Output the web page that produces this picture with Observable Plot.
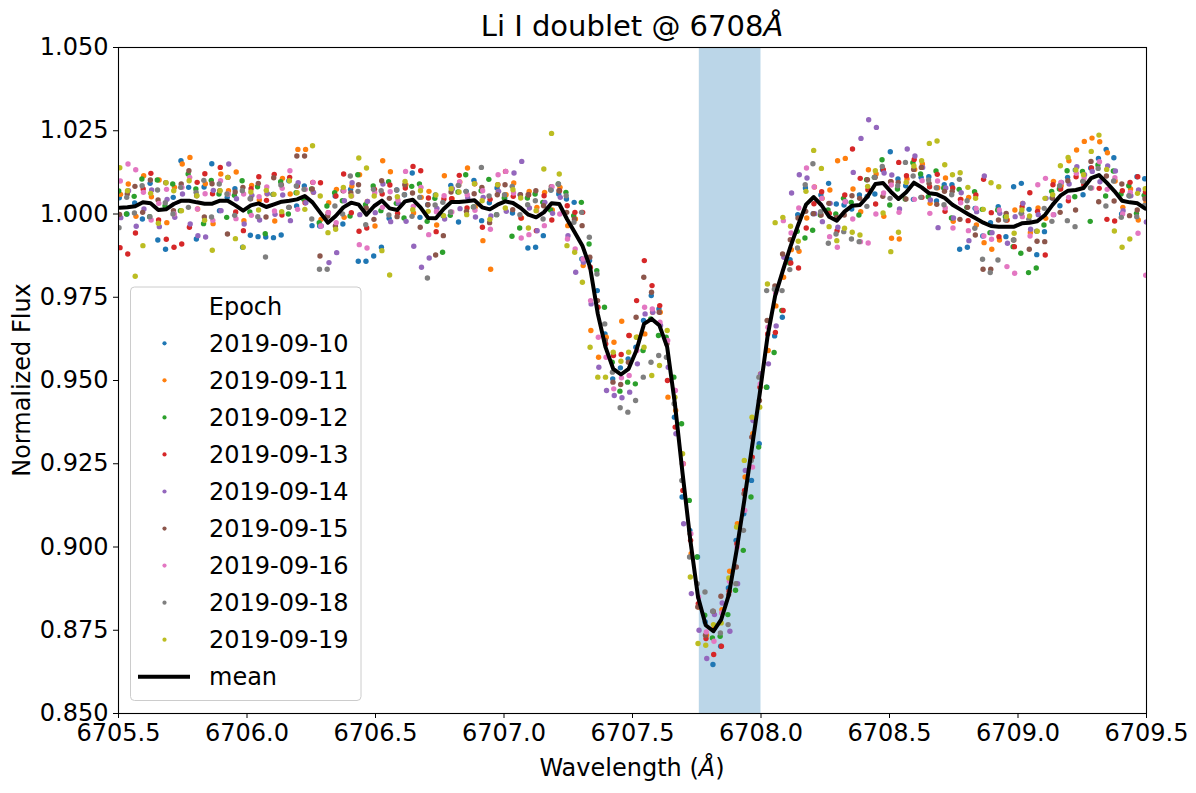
<!DOCTYPE html>
<html><head><meta charset="utf-8">
<script src="https://cdn.jsdelivr.net/npm/d3@7"></script>
<script src="https://cdn.jsdelivr.net/npm/@observablehq/plot@0.6"></script>
<style>body{margin:0;background:#fff;font-family:"DejaVu Sans",sans-serif}</style>
</head><body><div id="chart"></div>
<script>
// ---------------- data ----------------
const epochs = ["2019-09-10","2019-09-11","2019-09-12","2019-09-13","2019-09-14","2019-09-15","2019-09-16","2019-09-18","2019-09-19"];
const colors = ["#1f77b4","#ff7f0e","#2ca02c","#d62728","#9467bd","#8c564b","#e377c2","#7f7f7f","#bcbd22"];
// wavelength sampling of the spectra (Angstrom)
const waveStart = 6705.505, waveStep = 0.03;
// per-epoch wavelength offsets (Angstrom)
const epochShift = [-0.002, 0.003, -0.004, 0.001, 0.004, -0.001, 0.002, -0.003, 0.0];
// mean normalized flux, in thousandths relative to 1.000
const meanFlux = [1.9,2.0,2.3,3.5,3.2,1.2,1.4,3.0,4.0,4.0,3.5,3.1,3.1,4.0,4.0,2.6,1.0,2.6,3.2,2.1,
2.9,3.7,4.0,4.4,5.4,3.5,0.4,-2.6,-0.6,2.0,3.4,2.8,-0.2,2.4,4.0,1.7,1.2,3.8,4.3,2.0,
-1.2,-1.3,1.5,3.6,3.6,3.8,4.1,2.0,1.4,2.8,3.8,3.3,1.8,-0.2,-1.0,0.5,3.2,3.0,-1.5,-5.5,
-9.5,-16,-30,-40,-46.5,-48.2,-46.5,-41,-33,-31.5,-33.5,-40,-57,-78,-98,-115,-123.5,-125.3,-121.8,-114.3,
-101,-86,-70,-54,-37,-24.6,-17,-9.7,-3.2,2.8,5.1,2.7,-0.8,-2.0,0.7,2.5,2.7,5.3,9.0,9.3,
6.7,4.5,6.5,9.4,8.0,6.2,5.9,4.8,2.8,1.4,0.0,-1.3,-2.6,-3.6,-3.8,-3.8,-3.8,-2.8,-2.6,-2.2,
-0.3,2.8,5.5,7.0,7.2,7.8,10.8,11.7,9.4,6.9,4.0,3.5,3.2,1.6];
// per-epoch flux offsets from the mean, in thousandths
const dev_0910 = [3,-2,1,-5,6,-9,-12,2,12,4,-11,5,12,-3,1,5,-11,-9,-10,-9,-10,-10,6,-2,3,-7,-4,2,6,-5,4,-17,-14,-15,-14,-3,6,2,8,-3,4,7,-2,5,-6,3,6,-4,2,5,1,-3,4,-10,-9,-7,4,3,
6,9,-4,2,7,4,-3,2,3,1,1,7,5,2,-4,-7,3,12,1,-10,-8,2,3,-4,-10,-15,-15,-12,-14,-4,3,5,-5,
3,10,5,2,-1,3,0,-3,4,12,6,2,-5,3,5,-2,4,6,-12,-10,3,-4,1,6,-3,12,12,4,-10,-5,2,-3,4,6,-2,3,5,10,10,-4,2,8,9];
const dev_0911 = [4,7,-3,8,2,9,-4,5,11,13,-2,6,-6,8,3,10,-3,6,1,4,-5,7,2,15,14,3,-2,6,8,-3,5,9,4,-6,12,11,2,5,-4,3,8,-2,10,1,6,10,-2,-10,-18,4,2,6,-3,7,3,6,-2,5,
-2,4,-6,-19,-13,3,8,16,10,4,-3,2,4,-15,-2,3,-4,-3,-3,1,3,7,8,7,4,6,-4,-3,-2,-1,-8,-4,3,
2,8,18,16,5,-2,8,3,-10,-14,-12,4,4,7,-3,2,6,-5,3,5,-2,-6,-7,-4,2,5,6,-3,4,-1,7,3,9,12,14,12,10,9,3,-2,4,-5,2];
const dev_0912 = [5,-2,3,7,-4,9,1,6,-3,8,4,-6,7,2,-5,3,9,-2,5,-8,3,6,-4,2,-1,4,-3,5,7,2,-4,9,3,6,-3,8,2,-5,4,7,-1,6,-13,-4,3,8,-2,5,9,-3,1,-10,-6,5,7,3,-2,6,
8,5,13,7,13,12,2,-5,-4,-10,-8,0,-3,3,8,15,12,12,3,-2,-5,-6,-12,-15,-15,-16,-15,-17,-12,-5,-2,-10,-10,
-3,2,2,4,1,-3,5,2,7,-4,3,-2,6,4,-1,7,3,-4,6,2,8,4,-2,5,3,-6,-9,-15,-14,-3,4,2,6,-2,5,-13,3,-4,6,2,5,-3,4];
const dev_0913 = [-12,-14,-8,4,9,-3,-9,-13,-13,-8,6,9,3,10,7,-2,-6,5,8,2,9,-4,7,4,-2,6,9,3,6,10,-3,-8,-4,5,2,7,-1,4,10,11,6,-4,3,1,8,-2,5,-6,3,6,9,2,-3,6,-4,5,-5,4,
4,6,10,0,2,1,4,6,10,15,19,10,6,-10,-7,-5,0,-2,-4,-7,-8,1,2,3,-3,2,1,-11,-12,-5,-13,-7,-2,
4,1,-3,5,17,8,2,-6,4,3,11,5,7,-3,2,6,-4,5,3,-2,7,13,4,-3,2,-6,5,9,3,-12,6,2,-3,4,1,3,-4,-11,-9,3,6,8,5];
const dev_0914 = [-3,5,-6,-2,4,-5,3,-4,2,-7,-10,-10,4,-3,11,2,-4,3,-5,4,-3,2,-6,5,-2,3,-4,-12,-11,2,6,-3,4,-2,5,-4,2,-6,-14,-18,-12,3,-3,4,-2,1,-5,3,-2,4,-3,9,14,2,-4,3,-3,2,
-5,-12,-5,-11,-16,-13,-8,-7,-7,-4,3,2,0,-6,-9,-15,-16,-10,-10,5,5,-11,-10,9,8,6,-8,-9,4,16,15,8,-5,
-5,4,-2,3,10,20,23,17,3,5,-3,13,8,6,-2,-10,3,-4,5,-8,2,14,-2,4,-5,3,6,-2,2,5,-3,4,2,7,4,2,-2,5,6,-3,2,4,-4];
const dev_0915 = [-2,4,6,-3,7,3,8,-2,5,9,2,-4,6,3,-10,4,7,2,6,-3,8,5,-2,13,12,4,-13,2,-3,5,3,6,2,-4,6,3,-2,5,2,-6,4,-11,-8,3,5,-3,2,6,-4,3,5,-2,4,6,8,2,5,4,
2,4,6,3,4,2,-4,-3,2,10,14,8,4,1,4,3,2,-3,-3,6,7,0,-5,2,3,-2,5,3,5,2,2,-2,-5,
-3,4,1,-1,3,2,5,2,-4,3,5,-2,4,6,3,-3,2,4,-3,2,-5,-14,-13,2,4,-4,3,-8,-6,-8,2,-5,3,-6,2,5,-8,2,-3,5,-4,-2,3];
const dev_0916 = [8,13,11,3,-5,2,6,-3,4,7,-2,3,-5,6,2,-4,5,-3,2,6,-2,4,9,-3,2,6,-4,3,-2,5,2,-12,-10,4,-2,5,3,9,-2,6,-5,2,4,-3,6,2,-3,5,-6,9,9,3,-9,-6,2,-4,5,-3,
-6,-5,-4,-10,-7,-3,-6,-1,-2,0,5,3,1,2,4,3,2,0,-2,-3,2,4,1,-3,-6,3,3,1,15,4,5,11,3,
2,-6,-8,3,-4,-11,-14,-9,-3,2,-4,3,-5,2,-6,4,-3,-7,2,-5,3,-4,-4,5,-12,-14,2,-4,11,11,-3,4,-2,5,3,-3,4,-2,4,-4,3,-9,-20];
const dev_0918 = [-6,3,-2,5,-4,6,2,-3,4,-2,3,7,-4,5,2,-3,6,2,-4,-15,3,5,-2,4,2,-5,-17,-14,3,-2,8,4,-3,5,3,-2,6,2,-5,3,-18,4,2,-3,5,3,-2,12,4,-3,2,5,-2,3,5,-2,4,6,
7,3,10,9,12,7,-1,-10,-13,-15,-16,-13,-9,-3,0,-2,-5,4,10,6,-4,-9,-10,-9,-4,5,14,2,-6,-7,-7,6,10,
-2,-8,-4,-6,-10,-11,-3,2,5,-2,4,9,2,-3,4,2,-2,3,9,4,-3,-11,-14,-10,2,-4,3,1,-3,2,-5,3,-9,-11,2,-3,2,-7,3,-5,2,-4,1];
const dev_0919 = [12,5,-21,-13,3,-4,8,4,-3,6,2,-5,-14,3,7,-10,-11,4,-2,5,3,-3,6,2,-4,17,5,-3,-4,6,2,14,14,3,-15,-20,4,6,-3,5,2,7,-2,4,3,-4,5,2,-3,6,-2,4,3,-4,2,13,21,9,
-8,-6,-11,-24,-19,-9,5,4,5,4,-7,-17,-12,5,2,6,-11,-14,-6,2,-1,5,7,12,9,-4,16,22,16,6,-5,4,14,
11,-3,-6,-5,-8,-9,3,4,-9,-18,-10,3,5,8,15,16,10,9,11,8,6,4,13,12,3,-2,4,2,-3,5,3,9,10,6,4,8,12,4,-12,-14,-11,3,6];
const epochDevs = [dev_0910,dev_0911,dev_0912,dev_0913,dev_0914,dev_0915,dev_0916,dev_0918,dev_0919];
// highlighted line-core window (Angstrom)
const spanStart = 6707.76, spanEnd = 6708.0;
const xTicks = [6705.5,6706.0,6706.5,6707.0,6707.5,6708.0,6708.5,6709.0,6709.5];
const yTicks = [0.850,0.875,0.900,0.925,0.950,0.975,1.000,1.025,1.050];

// ---------------- build tables ----------------
epochDevs.forEach((a,k)=>{ if(a.length!==meanFlux.length) throw new Error("epoch "+k+" has "+a.length+" values, expected "+meanFlux.length); });
const wave = meanFlux.map((_, i) => waveStart + waveStep * i);
const meanData = meanFlux.map((v, i) => ({w: wave[i], f: 1 + v / 1000}));
const points = [];
epochs.forEach((e, k) => {
  epochDevs[k].forEach((d, i) => points.push({epoch: e, w: wave[i] + epochShift[k], f: 1 + (meanFlux[i] + d) / 1000}));
});
const spans = [{a: spanStart, b: spanEnd}];

// ---------------- chart ----------------
const FONT = "DejaVu Sans";
const chart = Plot.plot({
  width: 1196, height: 793,
  marginLeft: 118, marginRight: 50, marginTop: 47, marginBottom: 80,
  x: {domain: [6705.5, 6709.5]},
  y: {domain: [0.85, 1.05]},
  color: {domain: epochs, range: colors},
  style: {fontFamily: FONT, fontSize: "24px", background: "white", color: "black", overflow: "visible"},
  marks: [
    Plot.rect(spans, {x1: "a", x2: "b", fill: "#1f77b4", fillOpacity: 0.3}),
    Plot.dot(points, {x: "w", y: "f", fill: "epoch", r: 2.7, clip: true}),
    Plot.line(meanData, {x: "w", y: "f", stroke: "black", strokeWidth: 4, clip: true}),
    Plot.frame({stroke: "black", strokeWidth: 1.1}),
    Plot.axisX({ticks: xTicks, tickFormat: d3.format(".1f"), tickSize: 5, tickPadding: 5, fontSize: 24, label: null, stroke: "black"}),
    Plot.axisY({ticks: yTicks, tickFormat: d3.format(".3f"), tickSize: 5, tickPadding: 5, fontSize: 24, label: null, stroke: "black"})
  ]
});
document.getElementById("chart").appendChild(chart);

const svg = d3.select(chart);
// title
const t = svg.append("text").attr("x", 632).attr("y", 36).attr("text-anchor", "middle")
  .attr("font-family", FONT).attr("font-size", 29).attr("fill", "black");
t.append("tspan").text("Li I doublet @ 6708");
t.append("tspan").attr("font-style", "italic").text("Å");
// axis labels
const xl = svg.append("text").attr("x", 632).attr("y", 776).attr("text-anchor", "middle")
  .attr("font-family", FONT).attr("font-size", 24).attr("fill", "black");
xl.append("tspan").text("Wavelength (");
xl.append("tspan").attr("font-style", "italic").text("Å");
xl.append("tspan").text(")");
svg.append("text").attr("transform", "translate(30,380) rotate(-90)").attr("text-anchor", "middle")
  .attr("font-family", FONT).attr("font-size", 24).attr("fill", "black").text("Normalized Flux");

// legend
const lg = svg.append("g").attr("font-family", FONT).attr("font-size", 24).attr("fill", "black");
lg.append("rect").attr("x", 130.5).attr("y", 287).attr("width", 230.5).attr("height", 413.5).attr("rx", 4)
  .attr("fill", "white").attr("fill-opacity", 0.8).attr("stroke", "#cccccc").attr("stroke-width", 1);
lg.append("text").attr("x", 245.5).attr("y", 306).attr("dy", "0.36em").attr("text-anchor", "middle").text("Epoch");
const rowY = k => 343.3 + 37.05 * k;
epochs.forEach((e, k) => {
  lg.append("circle").attr("cx", 164.5).attr("cy", rowY(k)).attr("r", 2.1).attr("fill", colors[k]);
  lg.append("text").attr("x", 209).attr("y", rowY(k)).attr("dy", "0.36em").attr("text-anchor", "start").text(e);
});
lg.append("line").attr("x1", 138).attr("x2", 190).attr("y1", rowY(9)).attr("y2", rowY(9))
  .attr("stroke", "black").attr("stroke-width", 4);
lg.append("text").attr("x", 209).attr("y", rowY(9)).attr("dy", "0.36em").attr("text-anchor", "start").text("mean");
</script>
</body></html>
